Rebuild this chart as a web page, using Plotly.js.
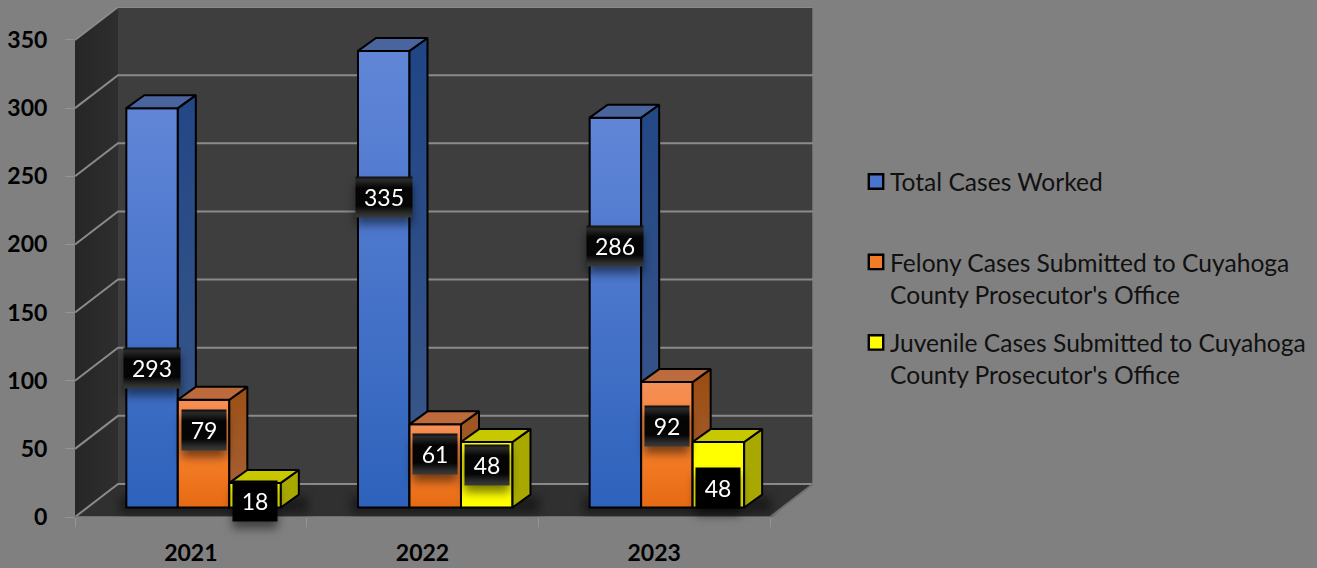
<!DOCTYPE html>
<html><head><meta charset="utf-8">
<script src="https://cdn.plot.ly/plotly-3.0.1.min.js"></script>
<style>html,body{margin:0;padding:0;background:#808080;overflow:hidden}</style>
</head><body><div id="chart" style="width:1317px;height:568px"></div>
<script>
const years = ['2021','2022','2023'];
const totalCases = [293,335,286];
const felonyCases = [79,61,92];
const juvenileCases = [18,48,48];
const seriesNames = ['Total Cases Worked<br>&nbsp;',
  "Felony Cases Submitted to Cuyahoga<br>County Prosecutor's Office",
  "Juvenile Cases Submitted to Cuyahoga<br>County Prosecutor's Office"];
const yTicks = [0,50,100,150,200,250,300,350];
// label centres (axis units)
const totalLabelY = [109,234.8,198.8];
const felonyLabelY = [63.5,46.2,67.1];
const juvenileLabelY = [11.7,38.2,21.3];

// projection constants (axis units)
const wallDx=0.1856, wallDy=24.2, barDx=0.0777, barDy=9.5, barW=0.2223, barBase=7, barShift=0.055;
const xMax=2.5+wallDx, yMax=350+wallDy;
const FONT='Lato, Carlito, Calibri, sans-serif';

const styles=[
 {front:'#4a75cc',top:'#4a659e',side:[[0,'#3c5889'],[1,'#1f4585']],grad:[['0%','#6186d8'],['100%','#2e62bb']]},
 {front:'#f47b25',top:'#bd6a3c',side:[[0,'#a8623a'],[1,'#9a4d10']],grad:[['0%','#f69058'],['60%','#f47b25'],['100%','#e66a14']]},
 {front:'#ffff00',top:'#c8c800',side:[[0,'#a8a800'],[1,'#a8a800']],grad:null}
];
const allSeries=[totalCases,felonyCases,juvenileCases];
const allLabels=[totalLabelY,felonyLabelY,juvenileLabelY];

function sc(xs,ys,extra,ax){return Object.assign({type:'scatter',mode:'lines',x:xs,y:ys,hoverinfo:'skip',showlegend:false,
  xaxis:ax?'x'+ax:'x',yaxis:ax?'y'+ax:'y'},extra);}
const traces=[];
// walls & floor
const x0=-0.5,x1=x0+wallDx;
traces.push(sc([x0,x1,x1,x0,x0],[0,wallDy,yMax,350,0],{fill:'toself',fillgradient:{type:'horizontal',colorscale:[[0,'#262626'],[1,'#2e2e2e']]},line:{width:0}}));
traces.push(sc([x1,xMax,xMax,x1,x1],[wallDy,wallDy,yMax,yMax,wallDy],{fill:'toself',fillcolor:'#3e3e3e',line:{width:0}}));
traces.push(sc([x0,x1,xMax,2.5,x0],[0,wallDy,wallDy,0,0],{fill:'toself',fillcolor:'#303030',line:{width:0}}));
traces.push(sc([xMax,xMax],[wallDy,yMax],{line:{color:'#6b6b6b',width:2}}));
// gridlines
const gx=[],gy=[];
yTicks.forEach(v=>{gx.push(x0,x1,xMax,null);gy.push(v,v+wallDy,v+wallDy,null);});
traces.push(sc(gx,gy,{line:{color:'#8a8a8a',width:2}}));
traces.push(sc([x0,2.5,xMax],[0,0,wallDy],{line:{color:'#707070',width:2}}));
// floor shadows
const sx=[],sy=[];
years.forEach((_,i)=>{const c=i+barShift;sx.push(c-0.36,c+0.45,c+0.45,c-0.36,c-0.36,null);sy.push(3,3,15,15,3,null);});
traces.push(sc(sx,sy,{fill:'toself',fillcolor:'#1b1b1b',line:{width:0}}));
const shadowIdx=traces.length-1;

allSeries.forEach((vals,k)=>{
  const ax=k+2;
  const st=styles[k];
  const xc=vals.map((_,i)=>i+barShift+(k-1)*barW);
  traces.push({type:'bar',name:seriesNames[k],legendgroup:'s'+k,x:xc,y:vals,base:vals.map(()=>barBase),width:barW,
    xaxis:'x'+ax,yaxis:'y'+ax,hoverinfo:'skip',showlegend:true,
    marker:{color:st.front,line:{color:'#000',width:2}}});
  const tx=[],ty=[],ex=[],ey=[];
  vals.forEach((v,i)=>{
    const l=xc[i]-barW/2,r=xc[i]+barW/2,t=barBase+v,b=barBase;
    tx.push(l,l+barDx,r+barDx,r,l,null);ty.push(t,t+barDy,t+barDy,t,t,null);
    ex.push(r,r+barDx,r+barDx,r,r,null);ey.push(t,t+barDy,b+barDy,b,t,null);
  });
  traces.push(sc(ex,ey,{fill:'toself',fillgradient:{type:'vertical',colorscale:st.side},line:{color:'#000',width:2}},ax));
  traces.push(sc(tx,ty,{fill:'toself',fillcolor:st.top,line:{color:'#000',width:2}},ax));
});

const annotations=[];
allSeries.forEach((vals,k)=>vals.forEach((v,i)=>{
  annotations.push({xref:'x',yref:'y',x:i+barShift+(k-1)*barW,y:allLabels[k][i],text:String(v),showarrow:false,
    font:{family:FONT,size:23,color:'#fff'},bgcolor:'#000',borderpad:0,
    width:String(v).length>2?56:44,height:40,align:'center',valign:'middle'});
}));

const hidden=(o)=>Object.assign({visible:false,fixedrange:true},o);
const layout={
  width:1317,height:568,autosize:false,
  paper_bgcolor:'#808080',plot_bgcolor:'rgba(0,0,0,0)',
  margin:{l:75,r:504,t:7,b:51,pad:0,autoexpand:false},
  barmode:'overlay',showlegend:true,
  font:{family:FONT,color:'#000'},
  xaxis:{range:[x0,xMax],automargin:false,tickmode:'array',tickvals:[0,1,2],ticktext:years,ticks:'',showgrid:false,zeroline:false,showline:false,
    tickfont:{family:FONT,size:23,color:'#000',weight:700},ticklabelstandoff:20,
    minor:{tickmode:'array',tickvals:[-0.5,0.5,1.5,2.5],ticks:'outside',ticklen:9,tickcolor:'#959595',tickwidth:1,showgrid:false}},
  yaxis:{range:[0,yMax],automargin:false,tickmode:'array',tickvals:yTicks,ticks:'outside',ticklen:9,tickcolor:'#959595',tickwidth:1,
    showgrid:false,zeroline:false,showline:false,tickfont:{family:FONT,size:23,color:'#000',weight:700},ticklabelstandoff:13},
  legend:{xref:'container',yref:'container',x:850/1317,xanchor:'left',y:1-159/568,yanchor:'top',bgcolor:'rgba(0,0,0,0)',borderwidth:0,
    font:{family:FONT,size:24.6,color:'#111'},itemclick:false,itemdoubleclick:false,tracegroupgap:13.5},
  annotations:annotations
};
[2,3,4].forEach(n=>{
  layout['xaxis'+n]=hidden({overlaying:'x',range:[x0,xMax]});
  layout['yaxis'+n]=hidden({overlaying:'y',range:[0,yMax]});
});

Plotly.newPlot('chart',traces,layout,{displayModeBar:false,staticPlot:true}).then(gd=>{
  const svg=gd.querySelector('.main-svg');
  const defs=svg.querySelector('defs');
  const NS='http://www.w3.org/2000/svg';
  function grad(id,stops){
    const g=document.createElementNS(NS,'linearGradient');
    g.setAttribute('id',id);g.setAttribute('x1','0');g.setAttribute('y1','0');g.setAttribute('x2','0');g.setAttribute('y2','1');
    stops.forEach(s=>{const e=document.createElementNS(NS,'stop');e.setAttribute('offset',s[0]);e.setAttribute('stop-color',s[1]);g.appendChild(e);});
    defs.appendChild(g);
  }
  styles.forEach((st,k)=>{
    if(!st.grad)return;
    grad('barGrad'+k,st.grad);
    gd.querySelectorAll('.x'+(k+2)+'y'+(k+2)+' .barlayer .point path').forEach(p=>{p.style.fill='url(#barGrad'+k+')';});
  });
  grad('labelGrad',[['0%','#0c0c0c'],['8%','#2a2a2a'],['28%','#050505'],['72%','#050505'],['90%','#2c2c2c'],['100%','#3a3a3a']]);
  // soft floor shadows
  const base=gd.querySelectorAll('.xy .scatterlayer .trace');
  const sh=base[shadowIdx];
  if(sh)sh.querySelectorAll('path').forEach(p=>{p.style.filter='blur(5px)';});
  // label boxes: bevel + drop shadow, the two plain boxes stay flat
  const flat=new Set([6,8]);
  gd.querySelectorAll('.annotation').forEach((a,i)=>{
    a.style.filter='drop-shadow(0 7px 5px rgba(0,0,0,0.5))';
    const bg=a.querySelector('rect.bg');
    if(bg&&!flat.has(i))bg.style.fill='url(#labelGrad)';
  });
  // legend swatches sit beside the first line, close to their text
  gd.querySelectorAll('.legend .legendsymbols').forEach(s=>{
    s.setAttribute('transform','translate(6,-16)');
    s.querySelectorAll('path').forEach(p=>{
      const t=p.getAttribute('transform')||'';
      p.setAttribute('transform',t+' scale(1.2)');
    });
  });
});
</script></body></html>
